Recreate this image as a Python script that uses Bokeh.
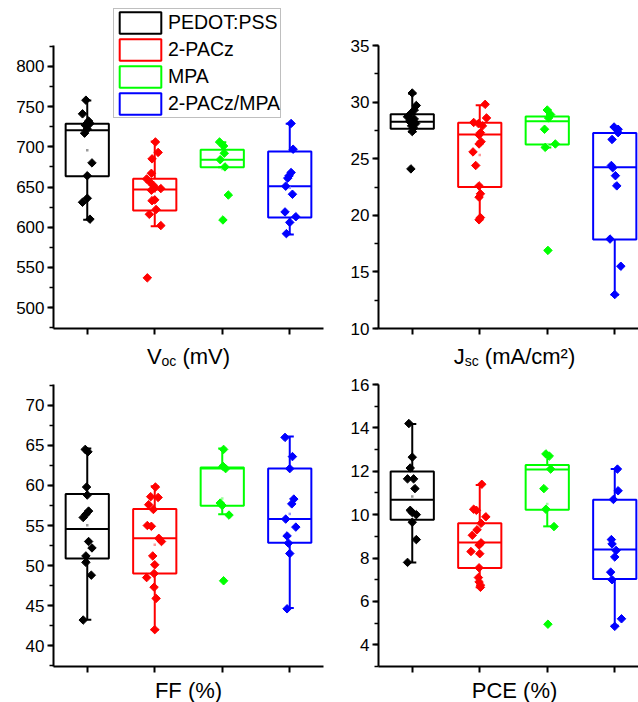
import math
from bokeh.plotting import figure
from bokeh.layouts import column, row
from bokeh.models import (ColumnDataSource, Label, Legend, LegendItem, FixedTicker,
                          SingleIntervalTicker, Range1d)
from bokeh.embed import file_html
from bokeh.resources import INLINE

categories = ["PEDOT:PSS", "2-PACz", "MPA", "2-PACz/MPA"]
colors = ["#000000", "#FF0000", "#00FF00", "#0000FF"]
mean_colors = ["#9a9a9a", "#ff9a9a", "#9aff9a", "#9a9aff"]

# ---- Voc (mV)
voc_pedot = [758, 741, 732, 729, 727, 722, 717, 680, 664, 636, 631, 610]
voc_pedot_dx = [-0.02, -0.07, 0.02, 0.04, -0.03, 0.0, -0.04, 0.07, 0.0, 0.0, -0.07, 0.04]
voc_pacz = [706, 693, 685, 667, 660, 656, 652, 649, 648, 646, 634, 633, 622, 616, 602, 537]
voc_pacz_dx = [0.01, 0.05, -0.04, -0.05, -0.12, -0.07, -0.02, 0.0, 0.09, -0.05, 0.0, -0.04, 0.02, -0.08, 0.09, -0.11]
voc_mpa = [706, 701, 692, 684, 675, 640, 609]
voc_mpa_dx = [-0.04, 0.02, 0.03, -0.03, 0.04, 0.09, 0.01]
voc_mix = [729, 697, 668, 664, 661, 651, 641, 619, 613, 606, 592]
voc_mix_dx = [0.02, 0.05, 0.02, -0.01, -0.03, -0.06, 0.04, -0.07, 0.09, 0.0, -0.05]
voc_q1 = [663.5, 620.7, 674.7, 612.0]
voc_med = [720.7, 646.9, 683.9, 651.0]
voc_q3 = [728.7, 660.2, 696.3, 694.2]
voc_lo = [609.2, 601.2, 674.7, 591.0]
voc_hi = [757.7, 706.6, 705.8, 728.7]

# ---- Jsc (mA/cm2)
jsc_pedot = [30.8, 29.7, 29.3, 29.0, 28.7, 28.5, 28.3, 28.1, 27.9, 27.7, 27.4, 24.1]
jsc_pedot_dx = [0.0, 0.06, 0.03, -0.02, -0.07, 0.03, -0.04, 0.05, -0.01, 0.02, 0.0, -0.02]
jsc_pacz = [29.8, 28.6, 28.2, 28.1, 27.9, 27.3, 27.1, 26.5, 26.3, 25.6, 24.4, 22.6, 21.9, 21.6, 19.8, 19.6]
jsc_pacz_dx = [0.08, 0.10, -0.09, -0.02, 0.04, 0.01, -0.01, 0.02, -0.01, -0.10, -0.06, -0.01, 0.01, -0.01, 0.01, -0.01]
jsc_mpa = [29.3, 28.9, 28.6, 27.6, 26.3, 26.0, 16.9]
jsc_mpa_dx = [0.0, 0.05, 0.02, -0.04, 0.12, -0.03, 0.01]
jsc_mix = [27.8, 27.6, 27.3, 26.7, 24.4, 24.2, 23.5, 22.6, 17.9, 15.5, 13.0]
jsc_mix_dx = [-0.01, 0.05, 0.05, -0.04, -0.05, -0.03, 0.01, 0.03, -0.07, 0.09, 0.0]
jsc_q1 = [27.64, 22.49, 26.25, 17.86]
jsc_med = [28.26, 27.14, 28.31, 24.25]
jsc_q3 = [28.93, 28.17, 28.73, 27.26]
jsc_lo = [27.35, 19.69, 26.0, 12.97]
jsc_hi = [30.73, 29.73, 29.3, 27.79]

# ---- FF (%)
ff_pedot = [64.5, 64.2, 59.8, 58.8, 56.8, 56.4, 56.0, 53.0, 52.2, 51.2, 50.4, 48.8, 43.2]
ff_pedot_dx = [-0.03, 0.01, -0.01, 0.0, 0.02, -0.02, -0.06, 0.02, 0.07, -0.02, -0.02, 0.06, -0.06]
ff_pacz = [59.8, 58.6, 58.5, 57.6, 57.0, 55.0, 54.9, 53.4, 53.0, 51.2, 50.1, 49.0, 48.5, 47.3, 45.9, 42.0]
ff_pacz_dx = [0.01, -0.06, 0.05, -0.09, -0.02, -0.11, -0.05, 0.06, 0.10, -0.03, 0.0, -0.01, -0.12, -0.01, 0.02, 0.0]
ff_mpa = [64.5, 62.4, 62.1, 57.8, 57.5, 56.3, 48.1]
ff_mpa_dx = [0.02, 0.01, 0.05, -0.03, 0.0, 0.10, 0.02]
ff_mix = [66.0, 63.6, 62.1, 58.3, 57.7, 55.8, 54.8, 53.7, 52.8, 51.5, 44.6]
ff_mix_dx = [-0.07, 0.04, 0.0, 0.06, 0.03, -0.06, 0.09, -0.04, -0.02, 0.0, -0.04]
ff_q1 = [50.87, 49.0, 57.47, 52.86]
ff_med = [54.56, 53.4, 62.1, 55.81]
ff_q3 = [58.92, 57.05, 62.24, 62.12]
ff_lo = [43.23, 42.0, 56.4, 44.7]
ff_hi = [64.6, 59.9, 64.6, 66.1]

# ---- PCE (%)
pce_pedot = [14.2, 12.65, 12.15, 11.65, 11.65, 11.2, 10.2, 10.1, 10.0, 9.65, 8.85, 7.8]
pce_pedot_dx = [-0.05, 0.0, -0.03, -0.07, 0.02, 0.04, -0.03, 0.0, 0.06, 0.0, 0.06, -0.07]
pce_pacz = [11.4, 10.25, 10.2, 9.9, 9.6, 9.3, 9.05, 8.7, 8.6, 8.3, 8.2, 7.55, 7.1, 6.9, 6.75, 6.65]
pce_pacz_dx = [0.03, -0.09, -0.05, 0.09, 0.02, -0.04, -0.11, 0.02, -0.01, -0.13, 0.0, -0.01, -0.02, -0.01, 0.01, 0.01]
pce_mpa = [12.8, 12.7, 12.1, 11.2, 10.25, 9.45, 4.95]
pce_mpa_dx = [-0.02, 0.03, 0.05, -0.05, -0.02, 0.10, 0.01]
pce_mix = [12.1, 11.1, 10.7, 8.85, 8.65, 8.35, 8.05, 7.35, 7.0, 5.2, 4.85]
pce_mix_dx = [0.04, 0.05, -0.02, -0.05, -0.04, 0.02, 0.0, -0.06, -0.04, 0.10, 0.0]
pce_q1 = [9.77, 7.54, 10.23, 7.03]
pce_med = [10.69, 8.72, 12.08, 8.39]
pce_q3 = [11.99, 9.6, 12.29, 10.69]
pce_lo = [7.8, 6.65, 9.46, 4.88]
pce_hi = [14.18, 11.37, 12.76, 12.11]

FONT = "Liberation Sans"
CHAR_W = {"V": .667, "o": .556, "c": .5, "s": .5, "J": .5, " ": .278, "(": .333, ")": .333,
          "m": .833, "A": .667, "/": .278, "\u00b2": .333, "F": .611, "%": .889, "P": .667,
          "C": .722, "E": .667}

PX_PER_CAT = 67.5   # pixels per category step


def text_w(t, size):
    return sum(CHAR_W.get(ch, 0.56) for ch in t) * size


def add_title(p, parts, cx, base):
    total = sum(text_w(t, s) for t, s, d in parts)
    x = cx - total / 2
    for t, s, d in parts:
        lead = len(t) - len(t.lstrip(" "))
        xs = x + text_w(" " * lead, s)
        p.add_layout(Label(x=xs, y=base - d, x_units="screen", y_units="screen",
                           text=t.strip(" "), text_font=FONT, text_font_size=f"{s}px",
                           text_color="black", text_align="left", text_baseline="alphabetic"))
        x += text_w(t, s)


def make_panel(groups, q1, med, q3, lo, hi, ybounds, interval, left_panel, top_panel,
               title_parts, legend=False):
    width = 333 if left_panel else 305
    axis_left = 53 if left_panel else 45
    height = 372 if top_panel else 330
    ax_top = 45 if top_panel else 12
    ax_h = 283 if top_panel else 282
    vmin, vmax = ybounds
    ppu = ax_h / (vmax - vmin)
    y_end = vmax + ax_top / ppu
    y_start = vmin - (height - ax_top - ax_h) / ppu
    x_start = 0.5 - axis_left / PX_PER_CAT
    x_end = x_start + width / PX_PER_CAT

    p = figure(width=width, height=height, x_range=Range1d(x_start, x_end),
               y_range=Range1d(y_start, y_end),
               output_backend="svg", toolbar_location=None, min_border=0,
               background_fill_color="white", border_fill_color="white")
    p.xgrid.visible = False
    p.ygrid.visible = False
    p.outline_line_color = None

    p.xaxis.fixed_location = vmin
    p.xaxis.bounds = (0.5, 4.5)
    p.yaxis.fixed_location = 0.5
    p.yaxis.bounds = (vmin, vmax)
    p.xaxis.ticker = FixedTicker(ticks=[1, 2, 3, 4], minor_ticks=[])
    p.xaxis.major_label_overrides = {1: "", 2: "", 3: "", 4: ""}
    p.yaxis.ticker = SingleIntervalTicker(interval=interval, num_minor_ticks=2)
    for ax in (p.xaxis[0], p.yaxis[0]):
        ax.axis_line_width = 2
        ax.axis_line_color = "black"
        ax.major_tick_line_width = 2
        ax.major_tick_line_color = "black"
        ax.minor_tick_line_width = 1.5
        ax.minor_tick_line_color = "black"
        ax.major_tick_in = 0
        ax.major_tick_out = 6
        ax.minor_tick_in = 0
        ax.minor_tick_out = 4
    p.yaxis.major_label_text_font = FONT
    p.yaxis.major_label_text_font_size = "17px"
    p.yaxis.major_label_text_color = "black"
    p.yaxis.major_label_standoff = 3

    xs = [1, 2, 3, 4]
    hw, cw = 0.32, 0.06
    means = [sum(v) / len(v) for v, _ in groups]
    src = ColumnDataSource(dict(
        x=xs, left=[c - hw for c in xs], right=[c + hw for c in xs],
        capl=[c - cw for c in xs], capr=[c + cw for c in xs],
        q1=q1, q3=q3, med=med, lo=lo, hi=hi, mean=means,
        color=colors, mcolor=mean_colors))
    box = p.quad(left="left", right="right", bottom="q1", top="q3", source=src,
                 fill_color=None, line_color="color", line_width=2)
    p.segment(x0="left", x1="right", y0="med", y1="med", source=src, line_color="color", line_width=2)
    p.segment(x0="x", x1="x", y0="q3", y1="hi", source=src, line_color="color", line_width=2)
    p.segment(x0="x", x1="x", y0="lo", y1="q1", source=src, line_color="color", line_width=2)
    p.segment(x0="capl", x1="capr", y0="hi", y1="hi", source=src, line_color="color", line_width=2)
    p.segment(x0="capl", x1="capr", y0="lo", y1="lo", source=src, line_color="color", line_width=2)
    p.scatter(x="x", y="mean", source=src, marker="square", size=2.5,
              fill_color="mcolor", line_color=None)

    for i, (vals, dxs) in enumerate(groups):
        p.scatter(x=[xs[i] + d for d in dxs], y=vals, marker="square", angle=math.pi / 4,
                  size=6, fill_color=colors[i], line_color=colors[i], line_width=1)

    cx = axis_left + (135 if left_panel else 136)
    add_title(p, title_parts, cx, 16 if top_panel else 12)

    if legend:
        items = [LegendItem(label=categories[i], renderers=[box], index=i) for i in range(4)]
        lg = Legend(items=items, location=(113, height - 118), orientation="vertical",
                    glyph_width=52, glyph_height=27, spacing=0, padding=0, margin=0,
                    label_standoff=2, label_height=20, label_text_font=FONT,
                    label_text_font_size="19.5px",
                    label_text_color="black", border_line_color="#808080", border_line_width=1,
                    background_fill_color="white", background_fill_alpha=1.0)
        p.add_layout(lg)
    return p


p1 = make_panel([(voc_pedot, voc_pedot_dx), (voc_pacz, voc_pacz_dx), (voc_mpa, voc_mpa_dx), (voc_mix, voc_mix_dx)],
                voc_q1, voc_med, voc_q3, voc_lo, voc_hi, (474, 826), 50, True, True,
                [("V", 22, 0), ("oc", 14, 4), (" (mV)", 22, 0)], legend=True)
p2 = make_panel([(jsc_pedot, jsc_pedot_dx), (jsc_pacz, jsc_pacz_dx), (jsc_mpa, jsc_mpa_dx), (jsc_mix, jsc_mix_dx)],
                jsc_q1, jsc_med, jsc_q3, jsc_lo, jsc_hi, (10, 35), 5, False, True,
                [("J", 22, 0), ("sc", 14, 4), (" (mA/cm\u00b2)", 22, 0)])
p3 = make_panel([(ff_pedot, ff_pedot_dx), (ff_pacz, ff_pacz_dx), (ff_mpa, ff_mpa_dx), (ff_mix, ff_mix_dx)],
                ff_q1, ff_med, ff_q3, ff_lo, ff_hi, (37.4, 72.6), 5, True, False,
                [("FF (%)", 22, 0)])
p4 = make_panel([(pce_pedot, pce_pedot_dx), (pce_pacz, pce_pacz_dx), (pce_mpa, pce_mpa_dx), (pce_mix, pce_mix_dx)],
                pce_q1, pce_med, pce_q3, pce_lo, pce_hi, (3, 16), 2, False, False,
                [("PCE (%)", 22, 0)])

layout = column(row(p1, p2), row(p3, p4))
open("out.html", "w").write(file_html(layout, INLINE))
